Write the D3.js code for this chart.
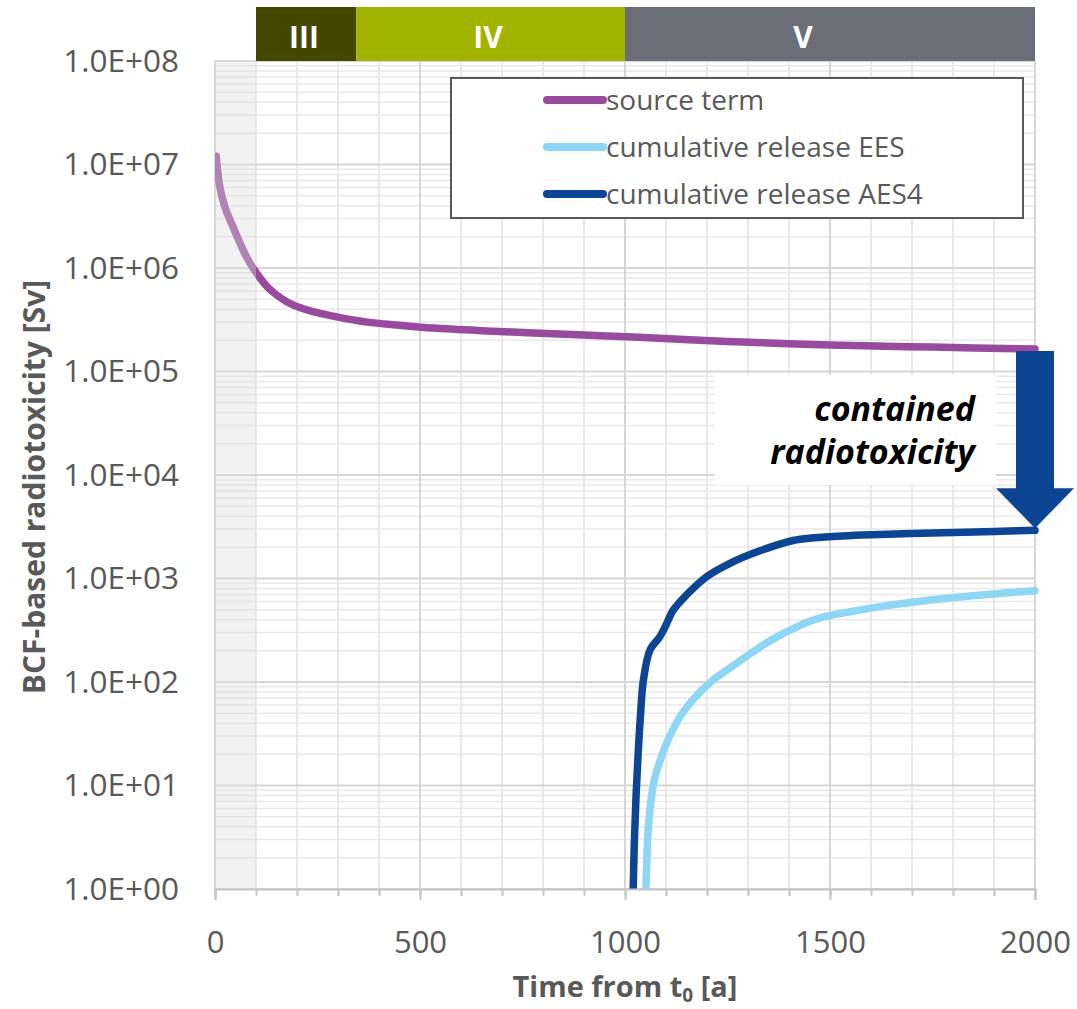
<!DOCTYPE html>
<html>
<head>
<meta charset="utf-8">
<script src="https://cdn.jsdelivr.net/npm/d3@7"></script>
<style>
  body { margin: 0; background: #fff; }
  text { font-family: "Open Sans", sans-serif; }
</style>
</head>
<body>
<script>
const width = 1077;
const height = 1009;

// source term (years, Sv)
const sourceYears = [3, 12, 25, 44, 65, 85, 105, 127, 150, 176, 210, 249, 300, 371, 450, 532, 650, 776, 900, 1020, 1250, 1500, 1750, 2000];
const sourceValues = [1.2e7, 6.0e6, 3.8e6, 2.5e6, 1.6e6, 1.12e6, 8.5e5, 6.6e5, 5.5e5, 4.7e5, 4.1e5, 3.7e5, 3.35e5, 3.0e5, 2.8e5, 2.63e5, 2.48e5, 2.36e5, 2.25e5, 2.15e5, 1.95e5, 1.8e5, 1.72e5, 1.65e5];

// cumulative release EES
const eesYears = [1051, 1057, 1065, 1073, 1087, 1102, 1134, 1175, 1215, 1260, 1297, 1350, 1394, 1450, 1490, 1560, 1622, 1700, 1785, 1900, 2000];
const eesValues = [1, 4, 8, 12, 18, 26, 46, 74, 105, 140, 178, 245, 305, 385, 430, 485, 535, 590, 644, 710, 762];

// cumulative release AES4
const aesYears = [1020, 1023, 1027, 1032, 1037, 1045, 1061, 1085, 1098, 1118, 1150, 1199, 1256, 1329, 1410, 1460, 1530, 1600, 1750, 1900, 2000];
const aesValues = [1, 3, 8, 20, 43, 105, 204, 274, 342, 497, 693, 1040, 1402, 1850, 2330, 2470, 2580, 2650, 2750, 2850, 2920];

// phases shown above the plot
const phaseNames = ["III", "IV", "V"];
const phaseStart = [100, 345, 1000];
const phaseEnd = [345, 1000, 2000];
const phaseLabelAt = [217, 666, 1434];
const phaseColors = ["#434700", "#a2b300", "#6b6e78"];

const xTicks = [0, 500, 1000, 1500, 2000];
const yTicks = [1, 10, 100, 1e3, 1e4, 1e5, 1e6, 1e7, 1e8];

const seriesNames = ["source term", "cumulative release EES", "cumulative release AES4"];
const seriesColors = ["#984b9d", "#8dd6f4", "#0b4594"];

const margin = {top: 61, right: 42, bottom: 120, left: 215};

const svg = d3.select("body").append("svg")
    .attr("width", width)
    .attr("height", height);

const x = d3.scaleLinear().domain([0, 2000]).range([margin.left, width - margin.right]);
const y = d3.scaleLog().domain([1, 1e8]).range([height - margin.bottom, margin.top]);

const plotBottom = y(1), plotTop = y(1e8);

// grid
const grid = svg.append("g");
const minorY = [];
for (let k = 0; k < 8; k++) for (let m = 2; m <= 9; m++) minorY.push(m * Math.pow(10, k));
grid.selectAll(".hminor").data(minorY).join("line")
    .attr("x1", x(0)).attr("x2", x(2000))
    .attr("y1", d => y(d)).attr("y2", d => y(d))
    .attr("stroke", "#e9e9e9").attr("stroke-width", 1.5);
grid.selectAll(".vminor").data(d3.range(100, 2000, 100)).join("line")
    .attr("x1", d => x(d)).attr("x2", d => x(d))
    .attr("y1", plotTop).attr("y2", plotBottom)
    .attr("stroke", "#e9e9e9").attr("stroke-width", 2);
grid.selectAll(".hmajor").data(yTicks).join("line")
    .attr("x1", x(0)).attr("x2", x(2000))
    .attr("y1", d => y(d)).attr("y2", d => y(d))
    .attr("stroke", "#d6d6d6").attr("stroke-width", 2);
grid.selectAll(".vmajor").data(xTicks).join("line")
    .attr("x1", d => x(d)).attr("x2", d => x(d))
    .attr("y1", plotTop).attr("y2", plotBottom)
    .attr("stroke", "#d6d6d6").attr("stroke-width", 2);

// lines
svg.append("clipPath").attr("id", "plot-clip")
  .append("rect")
    .attr("x", x(0)).attr("y", plotTop)
    .attr("width", x(2000) - x(0) + 4).attr("height", plotBottom - plotTop);

const smooth = d3.line()
    .x(d => x(d[0]))
    .y(d => y(d[1]))
    .curve(d3.curveCatmullRom.alpha(0.5));

const series = [
    d3.zip(sourceYears, sourceValues),
    d3.zip(eesYears, eesValues),
    d3.zip(aesYears, aesValues)
];

svg.append("g").attr("clip-path", "url(#plot-clip)")
  .selectAll("path").data(series).join("path")
    .attr("d", smooth)
    .attr("fill", "none")
    .attr("stroke", (d, i) => seriesColors[i])
    .attr("stroke-width", 7.5)
    .attr("stroke-linecap", "round")
    .attr("stroke-linejoin", "round");

// grey veil over the first 100 years
svg.append("rect")
    .attr("x", x(0)).attr("y", plotTop)
    .attr("width", x(100) - x(0)).attr("height", plotBottom - plotTop)
    .attr("fill", "#dcdcdc").attr("opacity", 0.38);

// x axis
const xAxis = svg.append("g").attr("transform", `translate(0,${plotBottom})`);
xAxis.call(d3.axisBottom(x).tickValues(d3.range(0, 2001, 100)).tickSize(7).tickFormat(""))
    .call(g => g.select(".domain").remove())
    .call(g => g.selectAll("line").attr("stroke", "#c4c4c4").attr("stroke-width", 2));
xAxis.append("g")
    .call(d3.axisBottom(x).tickValues(xTicks).tickSize(11).tickPadding(31).tickFormat(d3.format("d")))
    .call(g => g.select(".domain").attr("stroke", "#c4c4c4").attr("stroke-width", 2))
    .call(g => g.selectAll("line").attr("stroke", "#c4c4c4").attr("stroke-width", 2))
    .call(g => g.selectAll("text")
        .attr("fill", "#595959")
        .attr("font-size", 31)
        .attr("font-family", "Open Sans, sans-serif"));

// y axis
const fmt = v => "1.0E+" + String(Math.round(Math.log10(v))).padStart(2, "0");
svg.append("g").attr("transform", `translate(${x(0)},0)`)
    .call(d3.axisLeft(y).tickValues(yTicks).tickSize(0).tickPadding(36).tickFormat(fmt))
    .call(g => g.select(".domain").remove())
    .call(g => g.selectAll("text")
        .attr("fill", "#595959")
        .attr("font-size", 31.5)
        .attr("font-family", "Open Sans, sans-serif"));

// axis titles
const xTitle = svg.append("text")
    .attr("x", x(1000)).attr("y", 997)
    .attr("text-anchor", "middle")
    .attr("font-size", 29).attr("font-weight", "bold")
    .attr("fill", "#595959");
xTitle.append("tspan").text("Time from t");
xTitle.append("tspan").attr("font-size", 19).attr("dy", 5).text("0");
xTitle.append("tspan").attr("dy", -5).text(" [a]");

svg.append("text")
    .attr("transform", `translate(45,${(plotTop + plotBottom) / 2 + 12}) rotate(-90)`)
    .attr("text-anchor", "middle")
    .attr("font-size", 30).attr("font-weight", "bold")
    .attr("fill", "#595959")
    .text("BCF-based radiotoxicity [Sv]");

// phase bar
const phases = svg.append("g");
phaseNames.forEach((name, i) => {
    phases.append("rect")
        .attr("x", x(phaseStart[i]))
        .attr("y", 7)
        .attr("width", x(phaseEnd[i]) - x(phaseStart[i]))
        .attr("height", plotTop - 7)
        .attr("fill", phaseColors[i]);
    phases.append("text")
        .attr("x", x(phaseLabelAt[i]))
        .attr("y", 48)
        .attr("text-anchor", "middle")
        .attr("font-size", 30).attr("font-weight", "bold")
        .attr("fill", "#fff")
        .text(name);
});

// legend
const legend = svg.append("g");
legend.append("rect")
    .attr("x", 451).attr("y", 78)
    .attr("width", 572).attr("height", 140)
    .attr("fill", "#fff")
    .attr("stroke", "#595959").attr("stroke-width", 2);
seriesNames.forEach((name, i) => {
    const ly = 100 + i * 47;
    legend.append("line")
        .attr("x1", 547).attr("x2", 603)
        .attr("y1", ly).attr("y2", ly)
        .attr("stroke", seriesColors[i])
        .attr("stroke-width", 8)
        .attr("stroke-linecap", "round");
    legend.append("text")
        .attr("x", 606).attr("y", ly + 10)
        .attr("font-size", 28)
        .attr("fill", "#595959")
        .text(name);
});

// contained radiotoxicity annotation
const endSource = sourceValues[sourceValues.length - 1];
const endAes = aesValues[aesValues.length - 1];
svg.append("rect")
    .attr("x", 715).attr("y", 375)
    .attr("width", 281).attr("height", 110)
    .attr("fill", "#fff");
const note = svg.append("text")
    .attr("text-anchor", "end")
    .attr("font-size", 34)
    .attr("font-weight", "bold")
    .attr("font-style", "italic")
    .attr("fill", "#000");
note.append("tspan").attr("x", 975).attr("y", 421).text("contained");
note.append("tspan").attr("x", 975).attr("y", 464).text("radiotoxicity");

const ax = x(2000), aTop = y(endSource) + 2, aTip = y(endAes) - 2;
const headH = 40, headW = 39, shaftW = 19;
svg.append("path")
    .attr("d", d3.line()([
        [ax - shaftW, aTop], [ax + shaftW, aTop], [ax + shaftW, aTip - headH],
        [ax + headW, aTip - headH], [ax, aTip], [ax - headW, aTip - headH],
        [ax - shaftW, aTip - headH]
    ]) + "Z")
    .attr("fill", "#0b4594");
</script>
</body>
</html>
